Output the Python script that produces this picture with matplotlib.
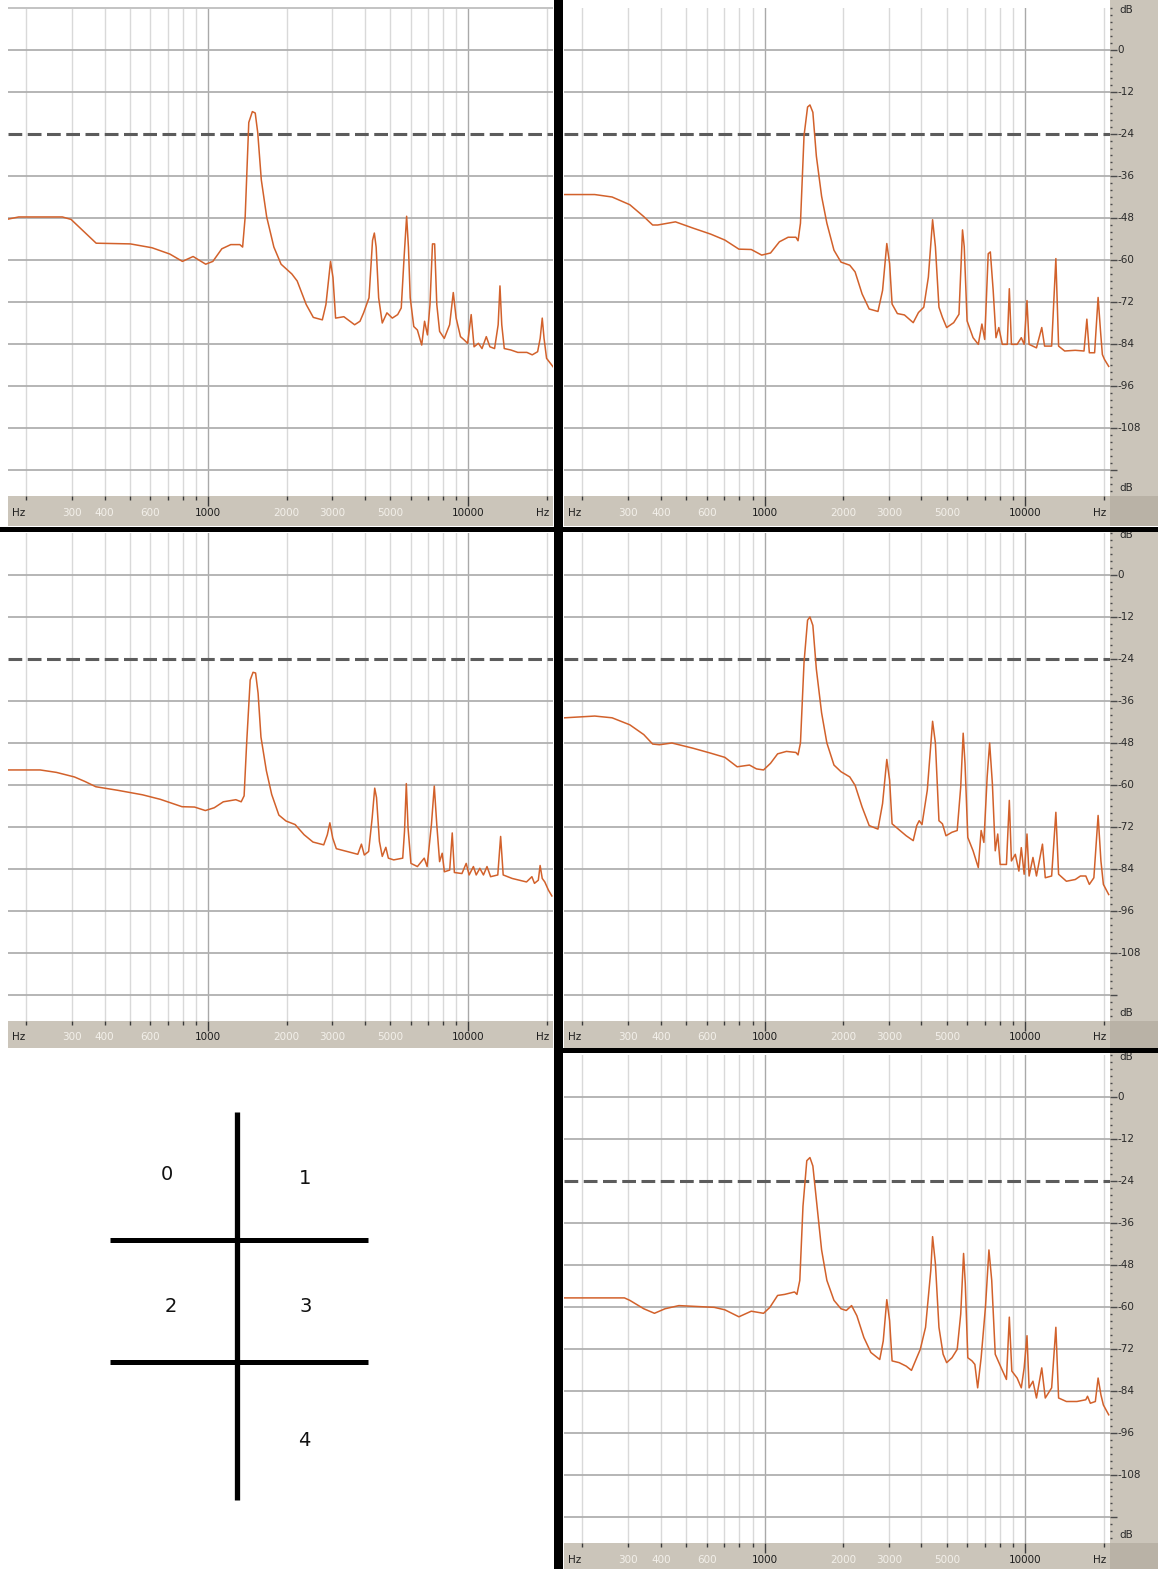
import matplotlib
matplotlib.use("Agg")
import matplotlib.pyplot as plt
from matplotlib import transforms
from matplotlib.patches import Rectangle
from matplotlib.ticker import FixedLocator, NullLocator

# Spectrum data (Hz, dB)
freq_0 = [168, 187, 275, 297, 371, 502, 608, 712, 796, 875, 978, 1042, 1128, 1221, 1323,
          1356, 1387, 1432, 1478, 1516, 1550, 1600, 1678, 1788, 1906, 2097, 2198, 2380, 2535, 2746,
          2835, 2953, 3017, 3088, 3322, 3654, 3832, 3956, 4150, 4282, 4351, 4421, 4520, 4667, 4864,
          5101, 5349, 5521, 5662, 5790, 5883, 5977, 6168, 6368, 6617, 6787, 6962, 7120, 7279, 7419,
          7562, 7753, 8079, 8472, 8750, 8975, 9326, 9625, 9934, 10253, 10516, 10930, 11283, 11720, 12099,
          12609, 13017, 13227, 13439, 13740, 14548, 15490, 16783, 17600, 18460, 18880, 19230, 19540, 19980, 21160]
db_0 = [-48.4, -47.7, -47.7, -48.4, -55.2, -55.4, -56.5, -58.3, -60.4, -59.0, -61.2, -60.4, -56.8, -55.6, -55.6,
        -56.3, -47.7, -20.7, -17.6, -18.0, -23.6, -37.1, -47.7, -56.3, -61.2, -64.0, -66.0, -72.7, -76.4, -77.1,
        -72.7, -60.4, -65.0, -76.6, -76.2, -78.5, -77.5, -75.1, -70.8, -54.4, -52.3, -56.3, -70.8, -78.0, -75.1,
        -76.6, -75.6, -73.7, -59.2, -47.5, -56.3, -70.8, -79.0, -80.0, -84.3, -77.5, -81.4, -72.7, -55.4, -55.4,
        -72.7, -80.4, -82.4, -78.5, -69.3, -76.6, -81.9, -82.8, -83.8, -75.6, -84.8, -83.8, -85.3, -81.9, -84.8,
        -85.3, -78.5, -67.4, -78.5, -85.3, -85.7, -86.4, -86.4, -87.1, -86.2, -82.4, -76.6, -82.4, -88.1, -90.5]

freq_1 = [171, 223, 260, 304, 344, 372, 389, 455, 532, 621, 704, 797, 889, 975, 1054,
          1140, 1231, 1319, 1344, 1373, 1417, 1462, 1493, 1532, 1580, 1655, 1734, 1846, 1964, 2123,
          2225, 2367, 2520, 2723, 2836, 2944, 3018, 3085, 3232, 3440, 3718, 3895, 4081, 4250, 4412,
          4523, 4667, 4813, 4996, 5316, 5570, 5747, 5835, 5984, 6309, 6607, 6821, 6992, 7212, 7348,
          7535, 7725, 7920, 8170, 8536, 8690, 8853, 9311, 9660, 9907, 10158, 10349, 11046, 11574, 11866,
          12630, 13110, 13430, 14170, 15560, 16810, 17240, 17620, 18460, 19040, 19450, 19770, 20140, 20910]
db_1 = [-41.3, -41.3, -42.0, -44.2, -47.6, -50.0, -50.0, -49.1, -50.9, -52.6, -54.3, -56.9, -57.0, -58.6, -58.0,
        -54.8, -53.5, -53.5, -54.5, -49.5, -24.5, -16.3, -15.7, -17.8, -30.3, -41.8, -49.5, -57.2, -60.6, -61.5,
        -63.4, -69.7, -74.0, -74.7, -68.7, -55.3, -61.0, -72.6, -75.3, -75.7, -77.9, -75.0, -73.5, -64.9, -48.5,
        -56.2, -73.5, -76.4, -79.3, -77.9, -75.5, -51.4, -56.2, -77.4, -82.2, -84.1, -78.3, -82.7, -58.2, -57.7,
        -68.7, -82.2, -79.3, -84.1, -84.1, -68.2, -84.1, -84.1, -82.2, -84.1, -71.6, -84.1, -85.1, -79.3, -84.6,
        -84.6, -59.6, -84.6, -86.0, -85.8, -86.0, -76.9, -86.5, -86.5, -70.7, -80.3, -87.0, -88.4, -90.4]

freq_2 = [170, 226, 261, 306, 336, 370, 448, 559, 655, 793, 886, 975, 1055, 1143, 1277,
          1339, 1374, 1405, 1450, 1487, 1521, 1555, 1595, 1673, 1754, 1869, 1992, 2158, 2336, 2528,
          2780, 2870, 2935, 3011, 3108, 3419, 3758, 3881, 3981, 4136, 4268, 4365, 4436, 4550, 4667,
          4817, 4925, 5165, 5593, 5683, 5774, 5864, 6015, 6370, 6766, 6941, 7211, 7396, 7561, 7752,
          7932, 8086, 8478, 8670, 8836, 9446, 9810, 10070, 10455, 10720, 11067, 11427, 11794, 12174, 12973,
          13305, 13610, 14735, 15700, 16730, 17545, 17950, 18570, 18870, 19230, 19670, 20300, 20940]
db_2 = [-55.7, -55.7, -56.4, -57.7, -59.0, -60.5, -61.5, -62.8, -64.1, -66.2, -66.3, -67.3, -66.5, -64.8, -64.2,
        -64.8, -63.1, -48.2, -30.0, -27.8, -28.0, -33.8, -46.3, -55.9, -62.7, -68.6, -70.3, -71.3, -74.2, -76.3,
        -77.1, -74.2, -70.8, -75.2, -78.2, -79.0, -79.8, -76.9, -80.0, -79.0, -69.4, -60.9, -63.6, -76.1, -80.4,
        -77.8, -80.9, -81.4, -80.9, -73.2, -59.6, -72.3, -82.4, -83.3, -80.9, -83.3, -71.3, -60.3, -71.3, -81.9,
        -79.5, -84.8, -84.3, -73.7, -85.0, -85.3, -82.4, -85.7, -83.3, -85.7, -83.8, -85.7, -83.3, -86.2, -85.7,
        -74.7, -85.7, -86.7, -87.2, -87.7, -86.2, -88.1, -87.2, -83.0, -86.7, -87.7, -90.0, -91.7]

freq_3 = [171, 223, 260, 304, 344, 372, 395, 441, 532, 621, 704, 785, 875, 931, 991,
          1054, 1122, 1213, 1319, 1344, 1373, 1417, 1462, 1493, 1532, 1580, 1655, 1734, 1846, 1964,
          2123, 2225, 2367, 2520, 2723, 2836, 2944, 3018, 3085, 3283, 3494, 3718, 3835, 3920, 4018,
          4210, 4412, 4523, 4667, 4813, 4966, 5236, 5483, 5657, 5781, 5875, 6022, 6309, 6607, 6775,
          6940, 7145, 7303, 7482, 7674, 7845, 8017, 8472, 8690, 8853, 9162, 9456, 9660, 9907, 10158,
          10349, 10708, 11046, 11647, 11940, 12630, 13110, 13430, 14390, 15560, 16290, 17080, 17620, 18340, 19040,
          19520, 19950, 20910]
db_3 = [-40.8, -40.3, -40.8, -42.8, -45.6, -48.3, -48.5, -48.0, -49.5, -50.9, -52.1, -54.8, -54.3, -55.4, -55.7,
        -53.8, -51.1, -50.4, -50.7, -51.4, -48.0, -25.0, -12.9, -12.0, -14.4, -26.9, -39.4, -48.0, -54.3, -56.2,
        -57.7, -60.1, -66.3, -71.6, -72.6, -65.3, -52.7, -58.6, -71.1, -72.8, -74.5, -75.9, -71.6, -70.2, -71.3,
        -61.5, -41.8, -48.0, -70.2, -71.1, -74.5, -73.5, -73.0, -60.5, -45.2, -53.8, -75.0, -78.8, -83.6, -73.0,
        -76.4, -57.7, -48.0, -59.6, -78.8, -74.0, -82.7, -82.7, -64.4, -81.7, -79.8, -84.6, -77.9, -85.5, -74.0,
        -86.0, -80.7, -86.0, -76.9, -86.5, -86.0, -67.8, -85.5, -87.5, -87.0, -86.0, -86.0, -88.4, -86.5, -68.7,
        -81.7, -88.4, -91.3]

freq_4 = [171, 290, 304, 344, 378, 415, 469, 566, 641, 704, 797, 889, 991, 1048, 1122,
          1194, 1303, 1331, 1365, 1404, 1452, 1493, 1532, 1580, 1655, 1734, 1846, 1964, 2058, 2157,
          2260, 2404, 2558, 2766, 2853, 2944, 3018, 3085, 3283, 3494, 3661, 3835, 3957, 4146, 4343,
          4412, 4523, 4667, 4842, 4996, 5236, 5483, 5657, 5801, 5889, 6022, 6250, 6409, 6570, 6775,
          7037, 7258, 7439, 7674, 8090, 8472, 8690, 8884, 9311, 9660, 9907, 10158, 10349, 10708, 11046,
          11574, 11940, 12630, 13110, 13430, 14390, 15790, 17080, 17340, 17780, 18580, 19040, 19520, 19950, 20910]
db_4 = [-57.4, -57.4, -58.1, -60.5, -61.8, -60.5, -59.6, -59.9, -60.1, -60.8, -62.8, -61.2, -61.8, -60.1, -56.7,
        -56.4, -55.7, -56.4, -52.4, -31.2, -18.2, -17.3, -19.7, -29.3, -43.7, -52.4, -58.1, -60.5, -61.0, -59.6,
        -62.5, -68.7, -73.0, -75.0, -69.7, -57.9, -63.9, -75.4, -75.9, -76.9, -78.1, -74.5, -72.1, -65.8, -49.5,
        -39.9, -47.6, -65.8, -73.5, -75.9, -74.5, -72.1, -62.0, -44.7, -53.3, -74.5, -75.4, -76.4, -83.1, -74.5,
        -60.1, -43.7, -52.4, -73.5, -77.4, -80.7, -62.9, -78.3, -80.3, -83.1, -77.4, -68.2, -83.1, -81.2, -86.0,
        -77.4, -86.0, -83.1, -65.8, -86.0, -87.0, -87.0, -86.5, -85.5, -87.5, -87.0, -80.3, -85.1, -88.0, -90.8]

# Axis labels
light_labels = [(300, '300'), (400, '400'), (600, '600'), (2000, '2000'), (3000, '3000'), (5000, '5000')]
dark_labels = [(1000, '1000'), (10000, '10000')]
db_labels = [0, -12, -24, -36, -48, -60, -72, -84, -96, -108]
diagram_labels = ['0', '1', '2', '3', '4']

# Layout constants (pixels)
W, H = 1158, 1569
F_MIN, F_MAX = 170, 21150
PX_PER_DB = 3.5
PANEL_H = 488
DB_TOP = 12
DB_BOT = DB_TOP - PANEL_H / PX_PER_DB
REF_DB = -24

BAR = '#cbc5ba'
CORNER = '#b9b2a6'
CURVE = '#d2612b'

minor_grid = [200, 300, 400, 500, 600, 700, 800, 900,
              2000, 3000, 4000, 5000, 6000, 7000, 8000, 9000, 20000]
major_grid = [1000, 10000]

fig = plt.figure(figsize=(W / 100, H / 100), dpi=100)
fig.patch.set_facecolor('white')


def px_rect(x0, y0, w, h):
    return [x0 / W, 1 - (y0 + h) / H, w / W, h / H]


def clean(ax):
    ax.set_xticks([])
    ax.set_yticks([])
    ax.xaxis.set_minor_locator(NullLocator())
    ax.yaxis.set_minor_locator(NullLocator())
    for s in ax.spines.values():
        s.set_visible(False)


def spectrum_panel(x0, top, w, freqs, dbs, bar_h):
    ax = fig.add_axes(px_rect(x0, top, w, PANEL_H))
    ax.set_xscale('log')
    ax.set_xlim(F_MIN, F_MAX)
    ax.set_ylim(DB_BOT, DB_TOP)
    clean(ax)
    for f in minor_grid:
        ax.axvline(f, color='#d9d9d9', lw=1.0, zorder=1)
    for f in major_grid:
        ax.axvline(f, color='#a9a9a9', lw=1.0, zorder=1)
    for d in range(0, -121, -12):
        if d != REF_DB:
            ax.axhline(d, color='#b0b0b0', lw=1.3, zorder=1)
    ax.axhline(REF_DB, color='#5c5c5c', lw=2.2, ls=(0, (4.5, 1.8)), zorder=2)
    ax.plot(freqs, dbs, color=CURVE, lw=1.1, zorder=3)

    # frequency bar underneath
    bar = fig.add_axes(px_rect(x0, top + PANEL_H, w, bar_h))
    bar.set_facecolor(BAR)
    bar.set_xscale('log')
    bar.set_xlim(F_MIN, F_MAX)
    bar.set_ylim(0, 1)
    bar.set_yticks([])
    for s in bar.spines.values():
        s.set_visible(False)
    bar.xaxis.set_major_locator(FixedLocator(major_grid))
    bar.xaxis.set_minor_locator(FixedLocator(minor_grid))
    bar.tick_params(axis='x', which='both', top=True, bottom=False, labelbottom=False,
                    direction='in', width=1, color='#3a3a3a')
    bar.tick_params(axis='x', which='major', length=7)
    bar.tick_params(axis='x', which='minor', length=3)
    tr = transforms.blended_transform_factory(bar.transData, bar.transAxes)
    for f, lab in light_labels:
        bar.text(f, 0.42, lab, transform=tr, ha='center', va='center',
                 fontsize=7.5, color='#f3f0ea')
    for f, lab in dark_labels:
        bar.text(f, 0.42, lab, transform=tr, ha='center', va='center',
                 fontsize=7.5, color='#1e1e1e')
    bar.text(0.008, 0.42, 'Hz', transform=bar.transAxes, ha='left', va='center',
             fontsize=7.5, color='#1e1e1e')
    bar.text(0.993, 0.42, 'Hz', transform=bar.transAxes, ha='right', va='center',
             fontsize=7.5, color='#1e1e1e')
    return ax


def db_bar(top, y_start, y_end):
    # right hand level scale, same dB mapping as the panel starting at `top`
    def to_db(y):
        return DB_TOP - (y - top) / PX_PER_DB
    ax = fig.add_axes(px_rect(1110, y_start, W - 1110, y_end - y_start))
    ax.set_facecolor(BAR)
    ax.set_xlim(0, 1)
    ax.set_ylim(to_db(y_end), to_db(y_start))
    ax.set_xticks([])
    for s in ax.spines.values():
        s.set_visible(False)
    ax.yaxis.set_major_locator(FixedLocator(list(range(0, -121, -12))))
    ax.yaxis.set_minor_locator(FixedLocator(list(range(12, -127, -2))))
    ax.tick_params(axis='y', which='both', left=True, right=False, labelleft=False,
                   direction='in', width=1, color='#4a4a4a')
    ax.tick_params(axis='y', which='major', length=5)
    ax.tick_params(axis='y', which='minor', length=1.5)
    for d in db_labels:
        ax.text(0.15, d, str(d), ha='left', va='center', fontsize=7.5, color='#2a2a2a')
    ax.text(0.2, to_db(top + 2), 'dB', ha='left', va='center', fontsize=7.5, color='#2a2a2a')
    ax.text(0.2, to_db(top + PANEL_H - 8), 'dB', ha='left', va='center', fontsize=7.5, color='#2a2a2a')
    return ax


# Row A
spectrum_panel(8, 8, 545, freq_0, db_0, 30)
spectrum_panel(564, 8, 546, freq_1, db_1, 30)
db_bar(8, 0, 8 + PANEL_H)
# Row B
spectrum_panel(8, 533, 545, freq_2, db_2, 27)
spectrum_panel(564, 533, 546, freq_3, db_3, 27)
db_bar(533, 532, 533 + PANEL_H)
# Row C
spectrum_panel(564, 1055, 546, freq_4, db_4, 30)
db_bar(1055, 1053, 1055 + PANEL_H)

# Overlay: frame separators, corner patches, layout diagram
ov = fig.add_axes([0, 0, 1, 1])
ov.set_xlim(0, W)
ov.set_ylim(H, 0)
ov.axis('off')
ov.patch.set_alpha(0)
ov.add_patch(Rectangle((1110, 8 + PANEL_H), W - 1110, 30, color=CORNER, lw=0))
ov.add_patch(Rectangle((1110, 533 + PANEL_H), W - 1110, 27, color=CORNER, lw=0))
ov.add_patch(Rectangle((1110, 1055 + PANEL_H), W - 1110, 30, color=CORNER, lw=0))
ov.add_patch(Rectangle((8, 7), 545, 2, color='#c4c4c4', lw=0))
ov.add_patch(Rectangle((554, 0), 9, H, color='black', lw=0))
ov.add_patch(Rectangle((0, 527), W, 5, color='black', lw=0))
ov.add_patch(Rectangle((554, 1048), W - 554, 5, color='black', lw=0))

ov.plot([237, 237], [1112, 1500], color='black', lw=3.8, solid_capstyle='butt')
ov.plot([110, 368], [1240, 1240], color='black', lw=3.6, solid_capstyle='butt')
ov.plot([110, 368], [1362, 1362], color='black', lw=3.6, solid_capstyle='butt')
label_pos = [(167, 1175), (305, 1178), (171, 1306), (306, 1306), (304, 1440)]
for (x, y), lab in zip(label_pos, diagram_labels):
    ov.text(x, y, lab, ha='center', va='center', fontsize=14, color='#111111')

fig.savefig('out.png', dpi=100, facecolor='white')
